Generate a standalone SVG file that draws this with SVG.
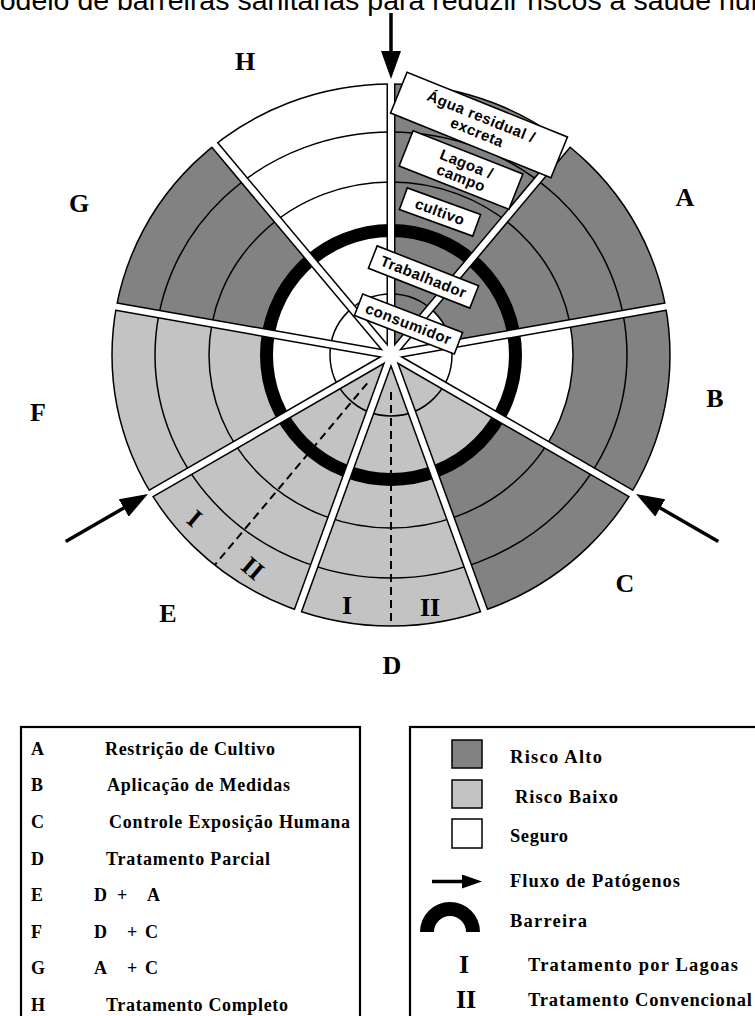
<svg xmlns="http://www.w3.org/2000/svg" width="755" height="1016" viewBox="0 0 755 1016">
<defs>
<style>
.dk{fill:#828282}
.lt{fill:#c3c3c3}
.wh{fill:#fff}
.ring{fill:none;stroke:#000;stroke-width:1.5}
.dvb{stroke:#000;stroke-width:9;stroke-linecap:butt}
.dvw{stroke:#fff;stroke-width:6;stroke-linecap:butt}
.dash{stroke:#000;stroke-width:2;stroke-dasharray:8 5;fill:none}
.lbl{font-family:"Liberation Serif","Times New Roman",serif;font-weight:bold;font-size:26px;text-anchor:middle}
.bx rect{fill:#fff;stroke:#000;stroke-width:1.6}
.bx text{font-family:"Liberation Sans",Arial,sans-serif;font-weight:bold;font-size:15px;letter-spacing:0.5px;text-anchor:middle}
.lg{font-family:"Liberation Serif","Times New Roman",serif;font-weight:bold;font-size:18px}
.lg2{font-family:"Liberation Serif","Times New Roman",serif;font-weight:bold;font-size:18.5px}
.arr{stroke:#000;stroke-width:3.5;fill:none}
.frame{fill:none;stroke:#000;stroke-width:2.2}
.sw{stroke:#000;stroke-width:1.5}
</style>
<marker id="ah" markerUnits="userSpaceOnUse" markerWidth="28" markerHeight="20" viewBox="0 0 28 20" refX="1" refY="10" orient="auto"><path d="M0,0 L28,10 L0,20 Z" fill="#000"/></marker>
<marker id="ahs" markerUnits="userSpaceOnUse" markerWidth="20" markerHeight="14" viewBox="0 0 20 14" refX="1" refY="7" orient="auto"><path d="M0,0 L20,7 L0,14 Z" fill="#000"/></marker>
</defs>
<rect width="755" height="1016" fill="#fff"/>
<text x="-24" y="10" font-family="'Liberation Sans',Arial,sans-serif" font-size="28.5">Modelo de barreiras sanitárias para reduzir riscos à saúde humana</text>

<g id="wheel">
<g id="sector-top"><path class="dk" d="M391,355 L391,84 A279,271 0 0 1 567.27,144.95 Z"/></g>
<g id="sector-A"><path class="dk" d="M391,355 L567.27,144.95 A279,271 0 0 1 665.51,306.61 Z"/><path class="wh" d="M391,355 L430.21,308.27 A61,61 0 0 1 451.07,344.41 Z"/></g>
<g id="sector-B"><path class="dk" d="M391,355 L665.51,306.61 A279,271 0 0 1 630.82,493.47 Z"/><path class="wh" d="M391,355 L569.95,323.46 A182,173 0 0 1 546.55,444.81 Z"/></g>
<g id="sector-C"><path class="dk" d="M391,355 L630.82,493.47 A279,271 0 0 1 483.99,610.5 Z"/><path class="lt" d="M391,355 L498.38,417 A124,124 0 0 1 433.41,471.52 Z"/></g>
<g id="sector-D"><path class="lt" d="M391,355 L483.99,610.5 A279,271 0 0 1 298.01,610.5 Z"/><path class="dash" d="M391,392 L391,626"/></g>
<g id="sector-E"><path class="lt" d="M391,355 L298.01,610.5 A279,271 0 0 1 151.18,493.47 Z"/><path class="dash" d="M367.2,383.3 L214.7,565"/></g>
<g id="sector-F"><path class="lt" d="M391,355 L151.18,493.47 A279,271 0 0 1 116.49,306.61 Z"/><path class="wh" d="M391,355 L283.62,417 A124,124 0 0 1 268.88,333.47 Z"/></g>
<g id="sector-G"><path class="dk" d="M391,355 L116.49,306.61 A279,271 0 0 1 214.73,144.95 Z"/><path class="wh" d="M391,355 L268.88,333.47 A124,124 0 0 1 311.29,260.02 Z"/></g>
<g id="sector-H"><path class="wh" d="M391,355 L214.73,144.95 A279,271 0 0 1 391,84 Z"/></g>

<g id="rings">
<ellipse class="ring" cx="391" cy="355" rx="182" ry="173"/>
<ellipse class="ring" cx="391" cy="355" rx="236" ry="223"/>
<circle class="ring" cx="391" cy="355" r="61" stroke-width="1.3"/>
<circle cx="391" cy="355" r="124.5" fill="none" stroke="#000" stroke-width="13"/>
<ellipse class="ring" cx="391" cy="355" rx="279" ry="271" stroke-width="2"/>
</g>

<g id="dividers">
<g class="dvb">
<line x1="391" y1="355" x2="391" y2="84"/>
<line x1="391" y1="355" x2="567.27" y2="144.95"/>
<line x1="391" y1="355" x2="665.51" y2="306.61"/>
<line x1="391" y1="355" x2="630.82" y2="493.47"/>
<line x1="391" y1="355" x2="483.99" y2="610.5"/>
<line x1="391" y1="355" x2="298.01" y2="610.5"/>
<line x1="391" y1="355" x2="151.18" y2="493.47"/>
<line x1="391" y1="355" x2="116.49" y2="306.61"/>
<line x1="391" y1="355" x2="214.73" y2="144.95"/>
</g>
<g class="dvw">
<line x1="391" y1="355" x2="391" y2="81"/>
<line x1="391" y1="355" x2="569.2" y2="142.65"/>
<line x1="391" y1="355" x2="668.47" y2="306.09"/>
<line x1="391" y1="355" x2="633.42" y2="494.97"/>
<line x1="391" y1="355" x2="485.02" y2="613.32"/>
<line x1="391" y1="355" x2="296.98" y2="613.32"/>
<line x1="391" y1="355" x2="148.58" y2="494.97"/>
<line x1="391" y1="355" x2="113.53" y2="306.09"/>
<line x1="391" y1="355" x2="212.8" y2="142.65"/>
</g>
</g>
</g>

<g id="stage-boxes" class="bx">
<g id="box-agua" transform="translate(479,125) rotate(22)"><rect x="-86.5" y="-22" width="173" height="44"/><text x="-1" y="-3.5">Água residual /</text><text x="1" y="12.5">excreta</text></g>
<g id="box-lagoa" transform="translate(461,170) rotate(21.5)"><rect x="-59" y="-19" width="118" height="38"/><text x="3" y="-2.5">Lagoa /</text><text x="3" y="12.5">campo</text></g>
<g id="box-cultivo" transform="translate(440,212) rotate(20)"><rect x="-39" y="-11.5" width="78" height="23"/><text x="0" y="5">cultivo</text></g>
<g id="box-trabalhador" transform="translate(423.5,277) rotate(21.5)"><rect x="-54.5" y="-12" width="109" height="24"/><text x="0" y="5">Trabalhador</text></g>
<g id="box-consumidor" transform="translate(408.5,324) rotate(21)"><rect x="-53.5" y="-11.5" width="107" height="23"/><text x="0" y="5">consumidor</text></g>
</g>

<g id="labels" class="lbl">
<text x="245" y="70">H</text>
<text x="79" y="212">G</text>
<text x="685" y="206">A</text>
<text x="715" y="407">B</text>
<text x="625" y="592">C</text>
<text x="392" y="674">D</text>
<text x="168" y="622">E</text>
<text x="38" y="421">F</text>
<text x="347" y="614">I</text>
<text x="430" y="616">II</text>
<text transform="translate(195,518) rotate(40)" y="9">I</text>
<text transform="translate(253,568) rotate(40)" y="9">II</text>
</g>

<g id="connectors">
<line class="arr" x1="391" y1="13" x2="391" y2="52" marker-end="url(#ah)"/>
<line class="arr" x1="65.7" y1="541.5" x2="124.6" y2="507.5" marker-end="url(#ah)"/>
<line class="arr" x1="718.3" y1="541.5" x2="659.4" y2="507.5" marker-end="url(#ah)"/>
</g>

<g id="legend-measures">
<rect class="frame" x="21" y="727" width="339" height="300"/>
<g class="lg">
<text x="31" y="755">A</text><text x="105" y="755" textLength="170" lengthAdjust="spacing">Restrição de Cultivo</text>
<text x="31" y="791">B</text><text x="107" y="791" textLength="183" lengthAdjust="spacing">Aplicação de Medidas</text>
<text x="31" y="828">C</text><text x="109" y="828" textLength="241" lengthAdjust="spacing">Controle Exposição Humana</text>
<text x="31" y="865">D</text><text x="106" y="865" textLength="164" lengthAdjust="spacing">Tratamento Parcial</text>
<text x="31" y="901">E</text><text y="901"><tspan x="94">D</tspan><tspan x="117">+</tspan><tspan x="147">A</tspan></text>
<text x="31" y="938">F</text><text y="938"><tspan x="94">D</tspan><tspan x="127">+</tspan><tspan x="145">C</tspan></text>
<text x="31" y="974">G</text><text y="974"><tspan x="94">A</tspan><tspan x="127">+</tspan><tspan x="145">C</tspan></text>
<text x="31" y="1011">H</text><text x="106" y="1011" textLength="182" lengthAdjust="spacing">Tratamento Completo</text>
</g>
</g>

<g id="legend-key">
<rect class="frame" x="410" y="727" width="360" height="300"/>
<rect class="dk sw" x="452" y="740" width="30" height="28"/>
<rect class="lt sw" x="452" y="780" width="30" height="28"/>
<rect class="wh sw" x="452" y="819" width="30" height="29"/>
<line class="arr" x1="432" y1="881.5" x2="463" y2="881.5" marker-end="url(#ahs)"/>
<path d="M427,932 A23,23 0 0 1 473,932" fill="none" stroke="#000" stroke-width="14"/>
<text class="lbl" x="464" y="973" font-size="24">I</text>
<text class="lbl" x="466" y="1008" font-size="24">II</text>
<g class="lg2">
<text x="510" y="763" textLength="92" lengthAdjust="spacing">Risco Alto</text>
<text x="515" y="803" textLength="103" lengthAdjust="spacing">Risco Baixo</text>
<text x="510" y="842" textLength="58" lengthAdjust="spacing">Seguro</text>
<text x="510" y="887" textLength="170" lengthAdjust="spacing">Fluxo de Patógenos</text>
<text x="510" y="927" textLength="77" lengthAdjust="spacing">Barreira</text>
<text x="528" y="971" textLength="210" lengthAdjust="spacing">Tratamento por Lagoas</text>
<text x="528" y="1006" textLength="224" lengthAdjust="spacing">Tratamento Convencional</text>
</g>
</g>
</svg>
